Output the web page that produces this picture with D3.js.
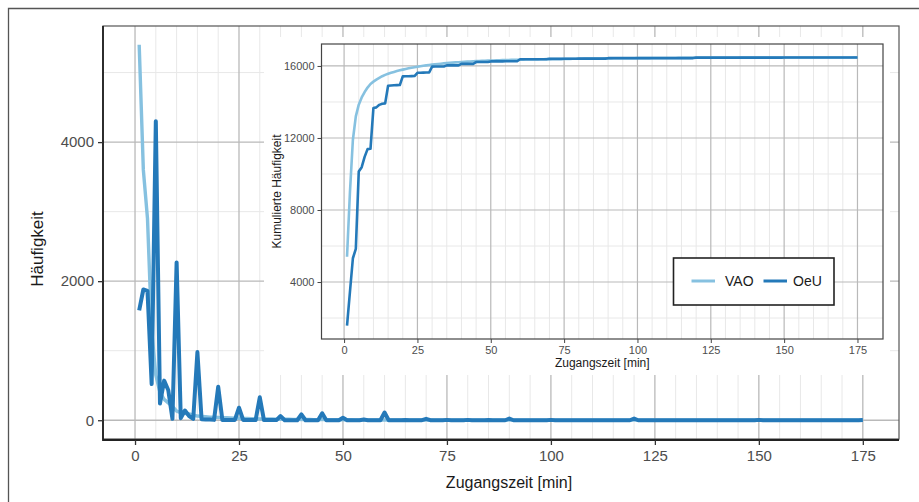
<!DOCTYPE html>
<html>
<head>
<meta charset="utf-8">
<script src="https://cdn.jsdelivr.net/npm/d3@7"></script>
<style>
  html, body { margin: 0; padding: 0; background: #fff; }
  svg { display: block; font-family: "Liberation Sans", Arial, sans-serif; }
</style>
</head>
<body>
<svg id="chart" width="919" height="502"></svg>
<script>
// ---------------- DATA ----------------
const minutes = d3.range(1, 176); // Zugangszeit 1..175 min

const seriesNames = ["VAO", "OeU"];

const vao = [
  5400, 3600, 2900, 1300, 650, 400, 300, 250, 200, 130,
  110, 100, 90, 75, 60, 55, 50, 45, 42, 40,
  38, 35, 32, 30, 28, 26, 24, 22, 21, 20,
  19, 18, 17, 16, 15, 14, 13, 12, 12, 11,
  10, 10, 9, 9, 8, 8, 7, 7, 7, 6,
  6, 6, 5, 5, 5, 5, 4, 4, 4, 4,
  4, 3, 3, 3, 3, 3, 3, 3, 3, 3,
  3, 2, 2, 2, 2, 2, 2, 2, 2, 2,
  2, 2, 2, 2, 2, 2, 2, 2, 2, 2,
  2, 2, 1, 1, 1, 1, 1, 1, 1, 1,
  1, 1, 1, 1, 1, 1, 1, 1, 1, 1,
  1, 1, 1, 1, 1, 1, 1, 1, 1, 1,
  1, 0, 1, 0, 1, 0, 1, 0, 1, 0,
  1, 0, 1, 0, 1, 0, 1, 0, 1, 0,
  1, 0, 0, 1, 0, 0, 1, 0, 0, 1,
  0, 0, 1, 0, 0, 1, 0, 0, 1, 0,
  0, 1, 0, 0, 1, 0, 0, 1, 0, 0,
  1, 0, 0, 1, 0
];

const oeu = [
  1580, 1880, 1860, 520, 4300, 240, 570, 430, 20, 2270,
  30, 140, 60, 20, 980, 15, 10, 10, 5, 480,
  5, 5, 5, 5, 180, 5, 5, 3, 2, 330,
  2, 2, 2, 2, 60, 0, 0, 0, 0, 85,
  0, 0, 0, 0, 100, 0, 0, 0, 0, 35,
  0, 0, 0, 0, 10, 0, 0, 0, 0, 110,
  0, 0, 0, 0, 3, 0, 0, 0, 0, 20,
  0, 0, 0, 0, 5, 0, 0, 0, 0, 5,
  0, 0, 0, 0, 2, 0, 0, 0, 0, 25,
  0, 0, 0, 0, 0, 0, 0, 0, 0, 5,
  0, 0, 0, 0, 0, 0, 0, 0, 0, 0,
  0, 0, 0, 0, 0, 0, 0, 0, 0, 25,
  0, 0, 0, 0, 0, 0, 0, 0, 0, 0,
  0, 0, 0, 0, 0, 0, 0, 0, 0, 0,
  0, 0, 0, 0, 0, 0, 0, 0, 0, 5,
  0, 0, 0, 0, 0, 0, 0, 0, 0, 0,
  0, 0, 0, 0, 0, 0, 0, 0, 0, 0,
  0, 0, 0, 0, 3
];

const xTicks = [0, 25, 50, 75, 100, 125, 150, 175];
const yTicksMain = [0, 2000, 4000];
const yMinorMain = [1000, 3000, 5000];
const yTicksInset = [4000, 8000, 12000, 16000];
const yMinorInset = [2000, 6000, 10000, 14000];
const xMinor = d3.range(5, 175, 5).filter(v => v % 25 !== 0);

const colors = { VAO: "#86c1e0", OeU: "#2479b9" };

// cumulative series for the inset
const vaoCum = Array.from(d3.cumsum(vao));
const oeuCum = Array.from(d3.cumsum(oeu));

// ---------------- HELPERS ----------------
function expand(ext, f = 0.05) {
  const d = ext[1] - ext[0];
  return [ext[0] - d * f, ext[1] + d * f];
}

const svg = d3.select("#chart");
const majorCol = "#b9b9b9", minorCol = "#e8e8e8";

// outer frame (left & top)
svg.append("path").attr("d", "M8.5,502 V8.5 H919")
  .attr("fill", "none").attr("stroke", "#555").attr("stroke-width", 1.3);

// ---------------- MAIN PANEL ----------------
const mp = { l: 103, r: 899, t: 26, b: 439 };
const x = d3.scaleLinear().domain(expand(d3.extent(minutes))).range([mp.l, mp.r]);
const y = d3.scaleLinear().domain(expand([0, d3.max(vao.concat(oeu))])).range([mp.b, mp.t]);

const gMain = svg.append("g");
gMain.append("rect").attr("x", mp.l).attr("y", mp.t).attr("width", mp.r - mp.l).attr("height", mp.b - mp.t).attr("fill", "#fff");

gMain.selectAll(".xmin").data(xMinor).join("line")
  .attr("x1", d => x(d)).attr("x2", d => x(d)).attr("y1", mp.t).attr("y2", mp.b)
  .attr("stroke", minorCol).attr("stroke-width", 1);
gMain.selectAll(".ymin").data(yMinorMain).join("line")
  .attr("y1", d => y(d)).attr("y2", d => y(d)).attr("x1", mp.l).attr("x2", mp.r)
  .attr("stroke", minorCol).attr("stroke-width", 1);
gMain.selectAll(".xmaj").data(xTicks).join("line")
  .attr("x1", d => x(d)).attr("x2", d => x(d)).attr("y1", mp.t).attr("y2", mp.b)
  .attr("stroke", majorCol).attr("stroke-width", 1.3);
gMain.selectAll(".ymaj").data(yTicksMain).join("line")
  .attr("y1", d => y(d)).attr("y2", d => y(d)).attr("x1", mp.l).attr("x2", mp.r)
  .attr("stroke", majorCol).attr("stroke-width", 1.3);

// inset background (covers main grid)
svg.append("rect").attr("x", 264).attr("y", 37).attr("width", 626).attr("height", 338).attr("fill", "#fff");

// main lines
const lineMain = (arr) => d3.line().x((d, i) => x(minutes[i])).y(d => y(d))(arr);
gMain.append("path").attr("d", lineMain(vao)).attr("fill", "none")
  .attr("stroke", colors.VAO).attr("stroke-width", 3.4).attr("stroke-linejoin", "round");
gMain.append("path").attr("d", lineMain(oeu)).attr("fill", "none")
  .attr("stroke", colors.OeU).attr("stroke-width", 4).attr("stroke-linejoin", "round");

// main panel border
gMain.append("rect").attr("x", mp.l).attr("y", mp.t).attr("width", mp.r - mp.l).attr("height", mp.b - mp.t)
  .attr("fill", "none").attr("stroke", "#555").attr("stroke-width", 1.2);
gMain.append("path").attr("d", `M${mp.l},${mp.t} V${mp.b + 1} H${mp.r}`)
  .attr("fill", "none").attr("stroke", "#222").attr("stroke-width", 1.8);

// main axes
const axB = svg.append("g").attr("transform", `translate(0,${mp.b + 1})`)
  .call(d3.axisBottom(x).tickValues(xTicks).tickSize(5).tickPadding(5));
const axL = svg.append("g").attr("transform", `translate(${mp.l},0)`)
  .call(d3.axisLeft(y).tickValues(yTicksMain).tickFormat(d3.format("d")).tickSize(5).tickPadding(4));
[axB, axL].forEach(a => {
  a.select(".domain").remove();
  a.selectAll("line").attr("stroke", "#333").attr("stroke-width", 1.3);
  a.selectAll("text").attr("fill", "#4d4d4d").style("font-size", "15px");
});

svg.append("text").attr("x", 509).attr("y", 488).attr("text-anchor", "middle")
  .style("font-size", "16px").attr("fill", "#1a1a1a").text("Zugangszeit [min]");
svg.append("text").attr("transform", "translate(43,249) rotate(-90)").attr("text-anchor", "middle")
  .style("font-size", "17px").attr("fill", "#1a1a1a").text("Häufigkeit");

// ---------------- INSET ----------------
const ip = { l: 321.5, r: 883, t: 44, b: 339 };
const xi = d3.scaleLinear().domain(expand(d3.extent(minutes))).range([ip.l, ip.r]);
const yi = d3.scaleLinear().domain(expand(d3.extent(vaoCum.concat(oeuCum)))).range([ip.b, ip.t]);

const gIn = svg.append("g");
gIn.selectAll(".xmin").data(xMinor).join("line")
  .attr("x1", d => xi(d)).attr("x2", d => xi(d)).attr("y1", ip.t).attr("y2", ip.b)
  .attr("stroke", minorCol).attr("stroke-width", 1);
gIn.selectAll(".ymin").data(yMinorInset).join("line")
  .attr("y1", d => yi(d)).attr("y2", d => yi(d)).attr("x1", ip.l).attr("x2", ip.r)
  .attr("stroke", minorCol).attr("stroke-width", 1);
gIn.selectAll(".xmaj").data(xTicks).join("line")
  .attr("x1", d => xi(d)).attr("x2", d => xi(d)).attr("y1", ip.t).attr("y2", ip.b)
  .attr("stroke", majorCol).attr("stroke-width", 1.2);
gIn.selectAll(".ymaj").data(yTicksInset).join("line")
  .attr("y1", d => yi(d)).attr("y2", d => yi(d)).attr("x1", ip.l).attr("x2", ip.r)
  .attr("stroke", majorCol).attr("stroke-width", 1.2);

const lineIn = (arr) => d3.line().x((d, i) => xi(minutes[i])).y(d => yi(d))(arr);
gIn.append("path").attr("d", lineIn(vaoCum)).attr("fill", "none")
  .attr("stroke", colors.VAO).attr("stroke-width", 2.6).attr("stroke-linejoin", "round");
gIn.append("path").attr("d", lineIn(oeuCum)).attr("fill", "none")
  .attr("stroke", colors.OeU).attr("stroke-width", 2.6).attr("stroke-linejoin", "round");

gIn.append("rect").attr("x", ip.l).attr("y", ip.t).attr("width", ip.r - ip.l).attr("height", ip.b - ip.t)
  .attr("fill", "none").attr("stroke", "#444").attr("stroke-width", 1.2);

const aiB = svg.append("g").attr("transform", `translate(0,${ip.b})`)
  .call(d3.axisBottom(xi).tickValues(xTicks).tickSize(4).tickPadding(3));
const aiL = svg.append("g").attr("transform", `translate(${ip.l},0)`)
  .call(d3.axisLeft(yi).tickValues(yTicksInset).tickFormat(d3.format("d")).tickSize(4).tickPadding(3));
[aiB, aiL].forEach(a => {
  a.select(".domain").remove();
  a.selectAll("line").attr("stroke", "#444").attr("stroke-width", 1);
  a.selectAll("text").attr("fill", "#4d4d4d").style("font-size", "11px");
});

svg.append("text").attr("x", (ip.l + ip.r) / 2).attr("y", 367).attr("text-anchor", "middle")
  .style("font-size", "12px").attr("fill", "#1a1a1a").text("Zugangszeit [min]");
svg.append("text").attr("transform", `translate(281,${(ip.t + ip.b) / 2}) rotate(-90)`).attr("text-anchor", "middle")
  .style("font-size", "12px").attr("fill", "#1a1a1a").text("Kumulierte Häufigkeit");

// legend
const lg = svg.append("g");
lg.append("rect").attr("x", 673.5).attr("y", 258).attr("width", 160.5).attr("height", 47)
  .attr("fill", "#fff").attr("stroke", "#222").attr("stroke-width", 1.6);
const legendItems = [
  { name: seriesNames[0], x0: 691.5, tx: 725 },
  { name: seriesNames[1], x0: 763.5, tx: 793 }
];
legendItems.forEach(it => {
  lg.append("line").attr("x1", it.x0).attr("x2", it.x0 + 23.5).attr("y1", 281).attr("y2", 281)
    .attr("stroke", colors[it.name]).attr("stroke-width", 3);
  lg.append("text").attr("x", it.tx).attr("y", 286).style("font-size", "14px")
    .attr("fill", "#1a1a1a").text(it.name);
});
</script>
</body>
</html>
